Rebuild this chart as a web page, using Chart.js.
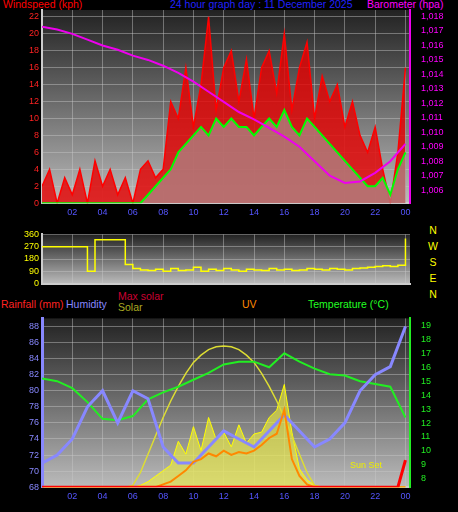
<!DOCTYPE html><html><head><meta charset="utf-8">
<script src="https://cdn.jsdelivr.net/npm/chart.js@4"></script>
<style>body{margin:0;background:#000;width:458px;height:512px;overflow:hidden;position:relative;font-family:"Liberation Sans",sans-serif}
canvas{position:absolute;left:0}.t{position:absolute;font-size:10.5px;white-space:nowrap}</style></head><body>
<div class="t" style="left:3px;top:-2px;color:#f00">Windspeed (kph)</div>
<div class="t" style="left:170px;top:-2px;color:#22f">24 hour graph day : 11 December 2025</div>
<div class="t" style="left:367px;top:-2px;color:#f0f">Barometer (hpa)</div>
<div class="t" style="left:428px;top:222px;color:#ff0;line-height:16px;width:10px;text-align:center">N<br>W<br>S<br>E<br>N</div>
<div class="t" style="left:1px;top:298px;color:#f22">Rainfall (mm)</div>
<div class="t" style="left:66px;top:298px;color:#88f">Humidity</div>
<div class="t" style="left:118px;top:290px;color:#c03">Max solar</div>
<div class="t" style="left:118px;top:301px;color:#aa2">Solar</div>
<div class="t" style="left:242px;top:298px;color:#f80">UV</div>
<div class="t" style="left:308px;top:298px;color:#2f2">Temperature (°C)</div>
<canvas id="c1" width="458" height="222" style="top:0"></canvas>
<canvas id="c2" width="458" height="66" style="top:226px"></canvas>
<canvas id="c3" width="458" height="196" style="top:310px"></canvas>
<script>
const hours=[0,0.5,1,1.5,2,2.5,3,3.5,4,4.5,5,5.5,6,6.5,7,7.5,8,8.5,9,9.5,10,10.5,11,11.5,12,12.5,13,13.5,14,14.5,15,15.5,16,16.5,17,17.5,18,18.5,19,19.5,20,20.5,21,21.5,22,22.5,23,23.5,24];
const gust=[2,4,0,3,1,4,0,5,2,4,1,3,0,4,5,3,4,12,10,16,9,14,22,11,16,18,12,17,10,16,18,13,20,11,16,19,10,15,12,14,9,12,8,6,9,4,0,6,16];
const avgWind=[0,0,0,0,0,0,0,0,0,0,0,0,0,0,1,2,3,4,6,7,8,9,8,10,9,10,9,9,8,9,10,9,11,9,8,10,9,8,7,6,5,4,3,2,2,3,1,4,6];
const baroHours=[0,1,2,3,4,5,6,7,8,9,10,11,12,13,14,15,16,17,18,19,20,21,22,23,24];
const baro=[1017.3,1017.1,1016.8,1016.4,1016.0,1015.7,1015.3,1015.0,1014.6,1014.1,1013.5,1012.8,1012.1,1011.4,1010.9,1010.3,1009.7,1009.0,1008.0,1007.0,1006.5,1006.6,1007.2,1008.0,1009.2];
const windDir=[270,270,270,270,270,270,90,320,320,320,320,140,110,100,95,105,90,110,95,100,120,90,105,95,110,100,90,105,100,95,110,100,105,95,100,110,105,100,110,105,100,110,115,120,125,130,125,135,330];
const humidity=[71,72,74,78,80,76,80,79,73,71,71,73,75,74,73,75,77,75,73,74,76,80,82,83,88];
const temperature=[15.2,15.0,14.5,13.5,12.3,12.2,12.5,13.7,14.2,14.6,15.1,15.6,16.2,16.4,16.4,16.0,17.0,16.4,15.9,15.5,15.4,15.0,14.8,14.6,12.4];
const maxSolar=[0,0,0,0,0,0,0,0,0,0,0,0,10,80,180,280,380,470,550,620,680,720,750,765,770,765,750,720,680,620,550,470,380,280,180,80,10,0,0,0,0,0,0,0,0,0,0,0,0];
const solar=[0,0,0,0,0,0,0,0,0,0,0,0,0,10,30,60,90,120,250,180,330,200,380,260,300,220,340,240,290,300,380,420,560,300,100,40,10,0,0,0,0,0,0,0,0,0,0,0,0];
const uv=[0,0,0,0,0,0,0,0,0,0,0,0,0,0,0,0,0.2,0.4,0.8,1.2,1.8,2.0,2.4,2.2,2.6,2.3,2.5,2.4,2.6,3.0,3.5,3.8,5.5,2.0,0.8,0.2,0,0,0,0,0,0,0,0,0,0,0,0,0];
const rain=[0,0,0,0,0,0,0,0,0,0,0,0,0,0,0,0,0,0,0,0,0,0,0,0,0,0,0,0,0,0,0,0,0,0,0,0,0,0,0,0,0,0,0,0,0,0,0,0,0.8];
const hourTicks=['02','04','06','08','10','12','14','16','18','20','22','00'];

const pts=(xs,ys)=>xs.map((x,i)=>({x,y:ys[i]}));
const bg={id:'bg',beforeDraw(c){const a=c.chartArea,x=c.ctx;const g=x.createLinearGradient(0,a.top,0,a.bottom);g.addColorStop(0,'#222');g.addColorStop(1,'#bbb');x.fillStyle=g;x.fillRect(a.left,a.top,a.right-a.left,a.bottom-a.top);}};
const fitW=w=>function(s){s.width=w;};
const F={size:9,family:'Liberation Sans'};
const grid={color:'rgba(200,200,200,0.45)',borderDash:[1,2],drawTicks:false};
function fixed(vals){return function(s){s.ticks=vals.map(v=>({value:v}));};}
function xAxis(show){return {type:'linear',min:0,max:24.3,afterBuildTicks:fixed([2,4,6,8,10,12,14,16,18,20,22,24]),
 ticks:{display:show,autoSkip:false,color:'#55f',font:F,padding:4,callback:(v)=>hourTicks[v/2-1]},grid:grid,border:{color:'#ccc',width:2}};}
const base={responsive:false,animation:false,plugins:{legend:{display:false},tooltip:{enabled:false}},elements:{point:{radius:0}}};

new Chart(c1,{type:'line',plugins:[bg],data:{datasets:[
 {data:pts(baroHours,baro),yAxisID:'yb',borderColor:'#e0e',borderWidth:2},
 {data:pts(hours,avgWind),yAxisID:'y',borderColor:'#0f0',borderWidth:2,fill:'origin',backgroundColor:'rgba(160,160,160,0.6)'},
 {data:pts(hours,gust),yAxisID:'y',borderColor:'#f00',borderWidth:1.5,fill:'origin',backgroundColor:'rgba(230,0,0,0.8)'}]},
 options:{...base,layout:{padding:{top:10}},scales:{x:xAxis(true),
 y:{min:0,max:22.8,afterFit:fitW(42),afterBuildTicks:fixed([0,2,4,6,8,10,12,14,16,18,20,22]),ticks:{autoSkip:false,color:'#f22',font:F},grid:grid,border:{color:'#ccc',width:2}},
 yb:{position:'right',min:1005.1,max:1018.45,afterFit:fitW(48),afterBuildTicks:fixed([1006,1007,1008,1009,1010,1011,1012,1013,1014,1015,1016,1017,1018]),ticks:{autoSkip:false,color:'#f0f',font:F},grid:{display:false},border:{color:'#e0e',width:2}}}}});

new Chart(c2,{type:'line',plugins:[bg],data:{datasets:[{data:pts(hours,windDir),borderColor:'#ff0',borderWidth:1.5,stepped:true}]},
 options:{...base,layout:{padding:{top:2,right:48,bottom:2}},scales:{x:{...xAxis(false),ticks:{display:false}},
 y:{min:0,max:360,afterFit:fitW(42),afterBuildTicks:fixed([0,90,180,270,360]),ticks:{autoSkip:false,color:'#ff0',font:F},grid:grid,border:{color:'#ccc',width:2}}}}});

const sunText={id:'st',afterDraw(c){const x=c.ctx;x.fillStyle='#ee0';x.font='9px "Liberation Sans"';x.fillText('Sun Set',350,158);}};
new Chart(c3,{type:'line',plugins:[bg,sunText],data:{datasets:[
 {data:pts(hours,rain),yAxisID:'yr',borderColor:'#f00',borderWidth:3},
 {data:pts(hours,uv),yAxisID:'yu',borderColor:'#f80',borderWidth:2},
 {data:pts(baroHours,humidity),yAxisID:'y',borderColor:'#88f',borderWidth:3},
 {data:pts(baroHours,temperature),yAxisID:'yt',borderColor:'#2e2',borderWidth:2},
 {data:pts(hours,maxSolar),yAxisID:'ys',borderColor:'#dd3',borderWidth:1.5},
 {data:pts(hours,solar),yAxisID:'ys',borderColor:'#ff0',borderWidth:1,fill:'origin',backgroundColor:'rgba(240,240,60,0.6)'}]},
 options:{...base,layout:{padding:{top:6}},scales:{x:xAxis(true),
 y:{min:68,max:89,afterFit:fitW(42),afterBuildTicks:fixed([68,70,72,74,76,78,80,82,84,86,88]),ticks:{autoSkip:false,color:'#88f',font:F},grid:grid,border:{color:'#88f',width:3}},
 yt:{position:'right',min:7.4,max:19.5,afterFit:fitW(48),afterBuildTicks:fixed([8,9,10,11,12,13,14,15,16,17,18,19]),ticks:{autoSkip:false,color:'#2e2',font:F},grid:{display:false},border:{color:'#2e2',width:2}},
 ys:{display:false,min:0,max:920},yu:{display:false,min:0,max:12},yr:{display:false,min:0,max:5}}}});
</script></body></html>
